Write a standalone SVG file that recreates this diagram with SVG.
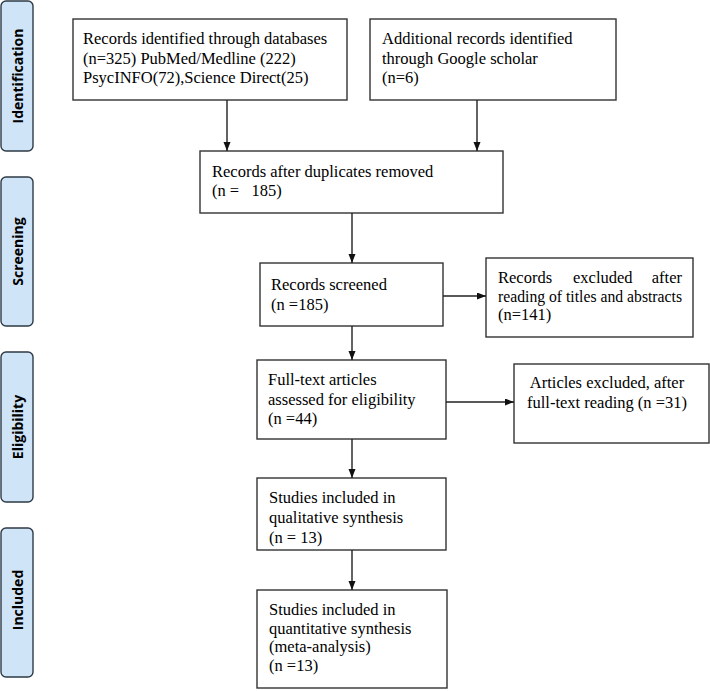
<svg xmlns="http://www.w3.org/2000/svg" width="710" height="691" viewBox="0 0 710 691">
<style>
.phase{fill:#cfe4f7;stroke:#2e3a46;stroke-width:1.4}
.plabel{font-family:"Open Sans","Noto Sans",sans-serif;font-weight:bold;font-size:14px;fill:#000;text-anchor:middle}
.box{fill:#fff;stroke:#333;stroke-width:1.4}
.t{font-family:"Liberation Serif","Times New Roman",serif;font-size:16.5px;fill:#000}
.conn{stroke:#222;stroke-width:1.4;fill:none;marker-end:url(#ah)}
</style>
<defs>
<marker id="ah" markerUnits="userSpaceOnUse" markerWidth="10" markerHeight="8" refX="9" refY="3.5" orient="auto">
<path d="M0,0 L9,3.5 L0,7 z" fill="#111"/>
</marker>
<clipPath id="c8"><rect x="257" y="478" width="190" height="68.5"/></clipPath>
</defs>
<rect width="710" height="691" fill="#fff"/>

<g id="phase-identification">
<rect class="phase" x="1" y="1" width="32" height="150" rx="5"/>
<text class="plabel" transform="translate(22.5,76) rotate(-90)">Identification</text>
</g>
<g id="phase-screening">
<rect class="phase" x="1" y="177" width="32" height="149" rx="5"/>
<text class="plabel" transform="translate(22.5,251.5) rotate(-90)">Screening</text>
</g>
<g id="phase-eligibility">
<rect class="phase" x="1" y="352" width="32" height="150" rx="5"/>
<text class="plabel" transform="translate(22.5,427) rotate(-90)">Eligibility</text>
</g>
<g id="phase-included">
<rect class="phase" x="1" y="528" width="32" height="149" rx="5"/>
<text class="plabel" transform="translate(22.5,600) rotate(-90)">Included</text>
</g>

<g id="n-databases">
<rect class="box" x="73" y="19" width="274" height="81"/>
<text class="t" x="83" y="44">Records identified through databases</text>
<text class="t" x="83" y="64">(n=325) PubMed/Medline (222)</text>
<text class="t" x="83" y="83">PsycINFO(72),Science Direct(25)</text>
</g>
<g id="n-google">
<rect class="box" x="370" y="19" width="246" height="81"/>
<text class="t" x="382" y="44">Additional records identified</text>
<text class="t" x="382" y="64">through Google scholar</text>
<text class="t" x="382" y="83">(n=6)</text>
</g>
<g id="n-duplicates">
<rect class="box" x="200" y="151" width="303" height="62"/>
<text class="t" x="212" y="177">Records after duplicates removed</text>
<text class="t" x="212" y="196" xml:space="preserve">(n =   185)</text>
</g>
<g id="n-screened">
<rect class="box" x="260" y="263" width="183" height="63"/>
<text class="t" x="271" y="290">Records screened</text>
<text class="t" x="271" y="310">(n =185)</text>
</g>
<g id="n-excluded1">
<rect class="box" x="486" y="258" width="207" height="79"/>
<text class="t" x="498" y="283">Records</text>
<text class="t" x="573" y="283">excluded</text>
<text class="t" x="682" y="283" text-anchor="end">after</text>
<text class="t" x="498" y="302" textLength="184" lengthAdjust="spacingAndGlyphs">reading of titles and abstracts</text>
<text class="t" x="498" y="320">(n=141)</text>
</g>
<g id="n-fulltext">
<rect class="box" x="257" y="360" width="189" height="79"/>
<text class="t" x="268" y="385">Full-text articles</text>
<text class="t" x="268" y="405">assessed for eligibility</text>
<text class="t" x="268" y="424">(n =44)</text>
</g>
<g id="n-excluded2">
<rect class="box" x="514" y="364" width="195" height="79"/>
<text class="t" x="607" y="388" text-anchor="middle">Articles excluded, after</text>
<text class="t" x="607" y="408" text-anchor="middle">full-text reading (n =31)</text>
</g>
<g id="n-qualitative">
<rect class="box" x="257" y="478" width="189" height="72"/>
<g clip-path="url(#c8)">
<text class="t" x="269" y="503">Studies included in</text>
<text class="t" x="269" y="523">qualitative synthesis</text>
<text class="t" x="269" y="543">(n = 13)</text>
</g>
</g>
<g id="n-quantitative">
<rect class="box" x="257" y="590" width="190" height="98"/>
<text class="t" x="269" y="615">Studies included in</text>
<text class="t" x="269" y="634">quantitative synthesis</text>
<text class="t" x="269" y="652">(meta-analysis)</text>
<text class="t" x="269" y="671">(n =13)</text>
</g>

<g id="connectors">
<line class="conn" x1="227" y1="100" x2="227" y2="151"/>
<line class="conn" x1="477" y1="100" x2="477" y2="151"/>
<line class="conn" x1="352" y1="213" x2="352" y2="263"/>
<line class="conn" x1="443" y1="296" x2="486" y2="296"/>
<line class="conn" x1="352" y1="326" x2="352" y2="360"/>
<line class="conn" x1="446" y1="402" x2="514" y2="402"/>
<line class="conn" x1="352" y1="439" x2="352" y2="478"/>
<line class="conn" x1="352" y1="550" x2="352" y2="590"/>
</g>
</svg>
